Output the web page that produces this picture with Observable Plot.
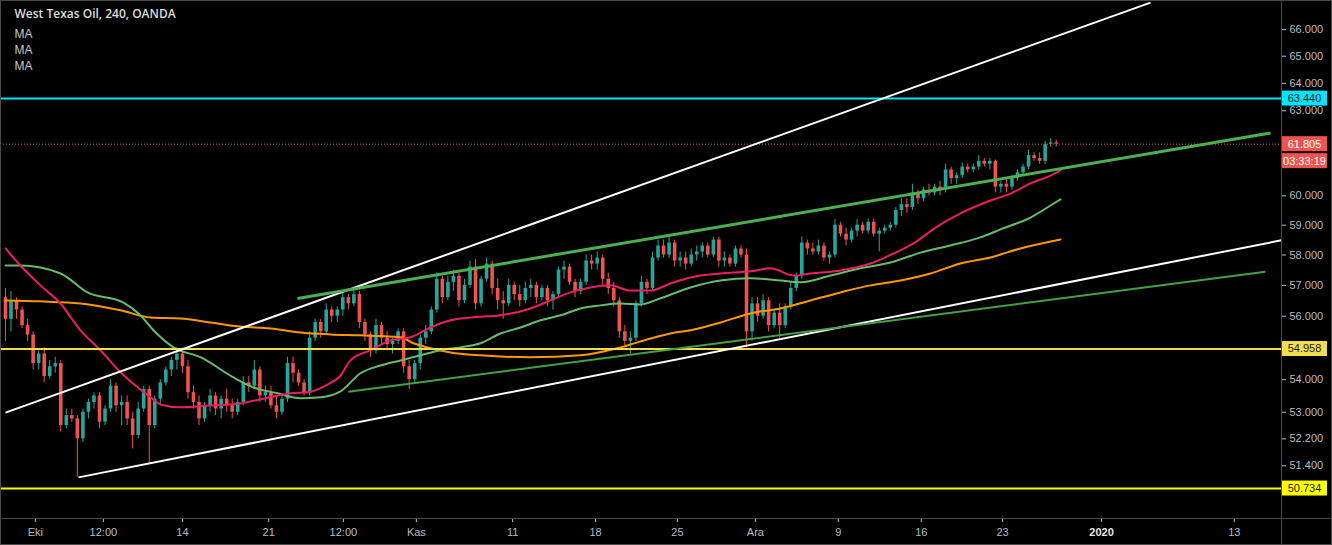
<!DOCTYPE html>
<html><head><meta charset="utf-8">
<script src="https://cdn.jsdelivr.net/npm/d3@7"></script>
<script src="https://cdn.jsdelivr.net/npm/@observablehq/plot@0.6"></script>
<style>
html,body{margin:0;padding:0;background:#000;}
#chart{width:1332px;height:545px;overflow:hidden;}
svg{display:block}
</style></head><body><div id="chart"></div>
<script>
const titleText = "West Texas Oil, 240, OANDA";
const legendRows = ["MA", "MA", "MA"];

// 4-hour candles (sampled), oldest first
const opens = [56.6,55.9,56.5,56.2,55.7,55.4,54.5,54.8,54.1,54.4,54.5,52.6,52.9,52.8,52.2,53.0,53.3,53.5,52.7,53.1,53.8,53.2,53.3,52.8,52.3,53.1,53.7,52.6,53.4,53.9,54.3,54.6,54.8,54.4,53.6,53.3,52.8,53.2,53.5,53.1,53.4,53.2,53.0,53.3,53.9,53.8,54.3,53.5,53.6,53.2,53.0,53.4,54.5,54.2,53.9,53.6,55.3,55.8,55.5,56.2,56.0,56.2,56.6,56.4,56.7,55.8,55.4,54.9,55.7,55.3,55.1,55.2,55.5,54.4,54.0,54.5,55.3,55.5,56.2,57.2,56.6,57.1,57.3,56.5,57.0,57.6,56.4,57.2,57.7,56.9,56.5,56.4,57.0,56.7,56.5,56.9,57.0,56.6,56.9,56.5,56.7,57.5,57.6,57.1,56.8,57.1,57.8,57.7,57.9,57.2,56.9,56.5,55.5,55.2,55.3,56.4,57.1,56.9,57.9,58.3,58.0,58.4,57.8,57.9,57.7,58.0,58.1,58.3,58.0,58.5,57.8,57.9,57.7,58.2,58.0,55.5,56.4,56.0,56.5,55.7,56.1,55.7,56.3,56.9,57.3,58.4,58.2,58.1,58.3,57.9,58.0,59.0,58.7,58.5,58.8,59.0,58.8,59.1,58.7,58.8,58.9,59.0,59.5,59.7,59.6,60.1,59.9,60.2,60.1,60.3,60.2,60.9,60.6,60.7,61.0,60.9,61.0,61.2,61.1,61.2,60.3,60.4,60.3,60.6,60.8,61.0,61.4,61.3,61.2,61.8,61.85];
const highs = [56.9,56.8,56.6,56.3,55.9,55.5,54.9,55.0,54.6,54.7,54.6,53.1,53.1,52.9,53.1,53.4,53.6,53.6,53.2,54.0,53.9,53.5,53.5,53.0,53.3,53.8,53.8,53.5,54.0,54.4,54.7,55.0,55.0,54.6,53.8,53.5,53.3,53.7,53.6,53.5,53.7,53.4,53.4,54.1,54.1,54.6,54.4,53.8,53.8,53.5,53.5,54.7,54.7,54.3,54.0,55.5,55.9,55.9,56.4,56.3,56.3,56.8,56.7,56.9,56.8,55.9,55.5,55.9,55.8,55.5,55.3,55.6,55.6,54.6,54.6,55.4,55.7,56.3,57.4,57.3,57.3,57.5,57.4,57.2,57.8,57.85,57.3,57.9,57.8,57.2,56.8,57.2,57.1,57.0,57.1,57.2,57.1,57.0,57.0,56.8,57.6,57.8,57.7,57.2,57.2,58.0,58.0,58.1,58.0,57.4,57.1,56.6,55.7,55.5,56.5,57.3,57.2,58.1,58.5,58.5,58.7,58.5,58.1,58.1,58.2,58.3,58.4,58.4,58.6,58.6,58.1,58.0,58.3,58.3,58.2,56.6,56.6,56.7,56.6,56.2,56.4,56.4,57.1,57.4,58.6,58.5,58.4,58.5,58.4,58.1,59.2,59.1,58.9,58.9,59.2,59.1,59.2,59.2,58.9,59.0,59.1,59.6,59.9,59.9,60.4,60.2,60.3,60.4,60.4,60.5,61.1,61.0,60.8,61.15,61.1,61.1,61.4,61.3,61.3,61.25,60.5,60.6,60.7,60.9,61.1,61.6,61.5,61.5,61.9,62.0,61.95];
const lows = [55.2,55.5,55.9,55.6,55.2,54.3,54.3,53.9,54.0,54.2,52.4,52.5,52.7,51.06,52.1,52.8,53.1,52.5,52.6,53.0,53.0,52.6,52.6,51.9,52.2,53.0,51.47,52.5,53.2,53.8,54.1,54.3,54.2,53.4,53.1,52.6,52.7,53.0,52.9,52.8,53.0,52.8,52.9,53.2,53.6,53.7,53.3,53.3,53.1,52.8,52.9,53.3,53.9,53.8,53.5,53.5,55.2,55.3,55.4,55.8,55.8,56.0,56.2,56.3,55.6,55.2,54.7,54.8,55.1,54.9,54.8,55.1,54.2,53.7,53.9,54.3,55.1,55.4,56.1,56.4,56.5,56.8,56.3,56.4,56.9,56.2,56.3,57.1,56.7,56.2,55.9,56.3,56.5,56.3,56.4,56.6,56.4,56.5,56.3,56.2,56.6,57.2,57.0,56.6,56.7,57.0,57.5,57.5,57.0,56.7,56.3,55.3,55.0,54.8,55.2,56.3,56.7,56.8,57.8,57.9,57.9,57.6,57.6,57.5,57.6,57.8,57.9,57.9,57.9,57.6,57.6,57.6,57.6,57.9,55.0,55.2,55.8,55.9,55.5,55.6,55.3,55.6,56.2,56.8,57.2,58.0,58.0,58.0,57.8,57.7,57.9,58.6,58.3,58.4,58.6,58.7,58.7,58.6,58.1,58.7,58.8,58.9,59.3,59.4,59.5,59.7,59.8,60.0,60.0,60.0,60.1,60.4,60.4,60.6,60.8,60.8,60.9,61.0,60.9,60.1,60.1,60.1,60.2,60.5,60.7,60.9,61.2,61.1,61.1,61.7,61.7];
const closes = [55.9,56.5,56.2,55.7,55.4,54.5,54.8,54.1,54.4,54.5,52.6,52.9,52.8,52.2,53.0,53.3,53.5,52.7,53.1,53.8,53.2,53.3,52.8,52.3,53.1,53.7,52.6,53.4,53.9,54.3,54.6,54.8,54.4,53.6,53.3,52.8,53.2,53.5,53.1,53.4,53.2,53.0,53.3,53.9,53.8,54.3,53.5,53.6,53.2,53.0,53.4,54.5,54.2,53.9,53.6,55.3,55.8,55.5,56.2,56.0,56.2,56.6,56.4,56.7,55.8,55.4,54.9,55.7,55.3,55.1,55.2,55.5,54.4,54.0,54.5,55.3,55.5,56.2,57.2,56.6,57.1,57.3,56.5,57.0,57.6,56.4,57.2,57.7,56.9,56.5,56.4,57.0,56.7,56.5,56.9,57.0,56.6,56.9,56.5,56.7,57.5,57.6,57.1,56.8,57.1,57.8,57.7,57.9,57.2,56.9,56.5,55.5,55.2,55.3,56.4,57.1,56.9,57.9,58.3,58.0,58.4,57.8,57.9,57.7,58.0,58.1,58.3,58.0,58.5,57.8,57.9,57.7,58.2,58.0,55.5,56.4,56.0,56.5,55.7,56.1,55.7,56.3,56.9,57.3,58.4,58.2,58.1,58.3,57.9,58.0,59.0,58.7,58.5,58.8,59.0,58.8,59.1,58.7,58.8,58.9,59.0,59.5,59.7,59.6,60.1,59.9,60.2,60.1,60.3,60.2,60.9,60.6,60.7,61.0,60.9,61.0,61.2,61.1,61.2,60.3,60.4,60.3,60.6,60.8,61.0,61.4,61.3,61.2,61.8,61.85,61.805];

// moving averages (candle index, price)
const maFastIdx = [0,2.35,6.33,9.95,13.56,17.18,20.80,23.51,26.22,28.03,31.65,37.07,42.50,47.02,51.54,54.61,57.87,60.58,62.39,66.00,69.62,73.24,76.85,80.47,84.09,89.51,94.94,98.55,102.17,105.79,109.40,113.02,116.64,120.25,123.87,129.29,134.72,138.34,142.50,145.57,151.00,156.96,160.58,164.20,168.54,172.69,178.12,181.74,185.35,188.97,190.78];
const maFastVal = [58.22,57.72,57.00,56.41,55.55,54.92,54.23,53.82,53.46,53.24,53.15,53.21,53.27,53.43,53.58,53.61,53.82,54.13,54.60,54.92,55.23,55.33,55.64,55.87,55.96,56.03,56.25,56.51,56.77,56.93,57.00,56.83,56.83,57.06,57.26,57.39,57.46,57.56,57.32,57.39,57.49,57.75,58.05,58.39,58.96,59.40,59.84,60.08,60.43,60.70,60.88];
const maMidIdx = [0,2.71,9.95,14.83,21.34,24.41,26.76,30.38,35.26,41.23,44.85,49.19,53.35,56.96,60.58,64.20,67.81,71.43,75.05,78.66,82.28,85.90,89.51,93.13,96.75,100.36,103.98,107.59,111.21,114.83,118.44,123.87,129.29,134.72,140.14,143.76,149.19,154.61,160.04,165.46,170.89,176.31,179.93,185.35,188.97,190.78];
const maMidVal = [57.65,57.65,57.39,56.77,56.44,56.03,55.55,55.01,54.70,54.07,53.76,53.58,53.43,53.46,53.64,54.20,54.44,54.60,54.76,54.92,55.01,55.14,55.45,55.64,55.87,56.03,56.25,56.35,56.41,56.38,56.58,56.93,57.16,57.23,57.16,57.10,57.32,57.56,57.75,58.08,58.32,58.59,58.86,59.26,59.67,59.88];
const maSlowIdx = [0,6.33,13.56,20.80,26.22,31.65,37.07,42.50,47.92,53.35,58.77,64.20,71.43,73.78,76.85,80.47,85.90,94.94,103.98,111.21,116.64,120.25,123.87,129.29,134.72,140.14,145.57,151.00,156.42,161.84,167.27,172.69,178.12,183.54,190.78];
const maSlowVal = [56.51,56.48,56.41,56.19,55.96,55.93,55.80,55.67,55.61,55.48,55.42,55.39,55.33,55.14,54.98,54.85,54.76,54.70,54.76,55.01,55.29,55.45,55.55,55.80,56.09,56.25,56.51,56.77,57.00,57.16,57.39,57.72,57.92,58.22,58.52];

// drawn trend lines: start/end (candle index, price)
const trendStartIdx = [0, 13.2, 52.8, 62.0];
const trendStartVal = [52.99, 51.06, 56.57, 53.63];
const trendEndIdx = [207.05, 230.7, 228.75, 227.8];
const trendEndVal = [67.03, 58.49, 62.20, 57.45];
const trendColors = ["#ffffff", "#ffffff", "#4caf50", "#43a047"];
const trendWidths = [2, 2, 3, 2];

// horizontal levels
const levelPrices = [63.44, 54.958, 50.734];
const levelColors = ["#00e5ff", "#f2dd4e", "#ffff00"];
const lastPrice = 61.805;
const countdown = "03:33:19";

// axis ticks
const xTickIdx = [5.4, 17.7, 32.0, 47.6, 61.1, 74.3, 91.7, 106.7, 121.5, 135.6, 150.6, 165.6, 180.3, 198.2, 222.2];
const xTickLabels = ["Eki", "12:00", "14", "21", "12:00", "Kas", "11", "18", "25", "Ara", "9", "16", "23", "2020", "13"];
const yTicks = [66, 65, 64, 63, 60, 59, 58, 57, 56, 54, 53, 52.2, 51.4];

const UP = "#26a69a", DOWN = "#ef5350";
const W = 1332, H = 545, PLOT_RIGHT = 1281, PLOT_BOTTOM = 518;

const candles = opens.map((o, i) => ({i, o, h: highs[i], l: lows[i], c: closes[i], col: closes[i] >= o ? UP : DOWN}));
const mk = (idx, val) => idx.map((v, k) => ({i: v, p: val[k]}));
const maFast = mk(maFastIdx, maFastVal), maMid = mk(maMidIdx, maMidVal), maSlow = mk(maSlowIdx, maSlowVal);
const trends = trendStartIdx.map((v, k) => ({x1: v, y1: trendStartVal[k], x2: trendEndIdx[k], y2: trendEndVal[k], col: trendColors[k], w: trendWidths[k]}));
const levels = levelPrices.map((p, k) => ({p, col: levelColors[k]}));
const labelMap = new Map(xTickIdx.map((v, k) => [v, xTickLabels[k]]));
const FONT = "'Liberation Sans', Arial, sans-serif";

const chart = Plot.plot({
  width: W, height: H,
  marginLeft: 0, marginRight: W - PLOT_RIGHT, marginTop: 0, marginBottom: H - PLOT_BOTTOM,
  style: {background: "#000", color: "#b8bcc4", fontFamily: FONT, fontSize: "11px"},
  x: {domain: [-0.9, 230.74], axis: null},
  y: {type: "log", domain: [49.87, 67.11], axis: null},
  color: {type: "identity"},
  marks: [
    Plot.ruleX(candles, {x: "i", y1: "l", y2: "h", stroke: "col", strokeWidth: 1}),
    Plot.ruleX(candles, {x: "i", y1: "o", y2: "c", stroke: "col", strokeWidth: 3.6}),
    Plot.line(maSlow, {x: "i", y: "p", stroke: "#ff9800", strokeWidth: 2, curve: "monotone-x"}),
    Plot.line(maMid, {x: "i", y: "p", stroke: "#66bb6a", strokeWidth: 2, curve: "monotone-x"}),
    Plot.line(maFast, {x: "i", y: "p", stroke: "#e91e63", strokeWidth: 2, curve: "monotone-x"}),
    Plot.ruleY([lastPrice], {y: d => d, stroke: "#ef5350", strokeWidth: 1, strokeDasharray: "1,2"}),
    Plot.ruleY(levels, {y: "p", stroke: "col", strokeWidth: 2}),
    Plot.link(trends, {x1: "x1", y1: "y1", x2: "x2", y2: "y2", stroke: "col", strokeWidth: "w"}),
    Plot.axisY({anchor: "right", ticks: yTicks, tickFormat: d => d.toFixed(3), tickSize: 4, tickPadding: 4, fontSize: 11}),
    Plot.axisX({anchor: "bottom", ticks: xTickIdx, tickFormat: d => labelMap.get(d), tickSize: 4, tickPadding: 6, fontSize: 11}),
    Plot.text([titleText], {text: d => d, frameAnchor: "top-left", dx: 14, dy: 9, lineAnchor: "top", textAnchor: "start", fontSize: 12, fontWeight: 600, fill: "#dcdcdc", fontFamily: "'Open Sans', sans-serif"}),
    Plot.text([legendRows.join("\n")], {text: d => d, frameAnchor: "top-left", dx: 14, dy: 26, lineAnchor: "top", textAnchor: "start", fontSize: 12, lineHeight: 1.333, fill: "#c8c8c8", fontFamily: FONT})
  ]
});

const svg = d3.select(chart);
svg.selectAll("text").filter(function () { return this.textContent === "2020"; })
  .attr("font-weight", "bold").attr("fill", "#e6e6e6");

// panel separators
const sep = "#4a4a4a";
svg.append("line").attr("x1", PLOT_RIGHT + 0.5).attr("x2", PLOT_RIGHT + 0.5).attr("y1", 0).attr("y2", H).attr("stroke", sep);
svg.append("line").attr("x1", 0).attr("x2", W).attr("y1", PLOT_BOTTOM + 0.5).attr("y2", PLOT_BOTTOM + 0.5).attr("stroke", sep);
svg.append("rect").attr("x", 0.5).attr("y", 0.5).attr("width", W - 1).attr("height", H - 1).attr("fill", "none").attr("stroke", sep);

// price labels on the axis
const ys = chart.scale("y");
function tag(y, text, bg, fg) {
  svg.append("rect").attr("x", PLOT_RIGHT + 1).attr("y", y - 7.5).attr("width", 45).attr("height", 15).attr("fill", bg);
  svg.append("text").attr("x", PLOT_RIGHT + 23.5).attr("y", y).attr("dy", "0.35em").attr("text-anchor", "middle")
    .attr("font-family", FONT).attr("font-size", 11).attr("fill", fg).text(text);
}
levels.forEach(l => tag(ys.apply(l.p), l.p.toFixed(3), l.col, "#1a1a1a"));
const yl = ys.apply(lastPrice);
tag(yl, lastPrice.toFixed(3), "#ef5350", "#ffffff");
tag(yl + 17, countdown, "#ef5350", "#ffffff");

document.getElementById("chart").appendChild(chart);
</script>
</body></html>
